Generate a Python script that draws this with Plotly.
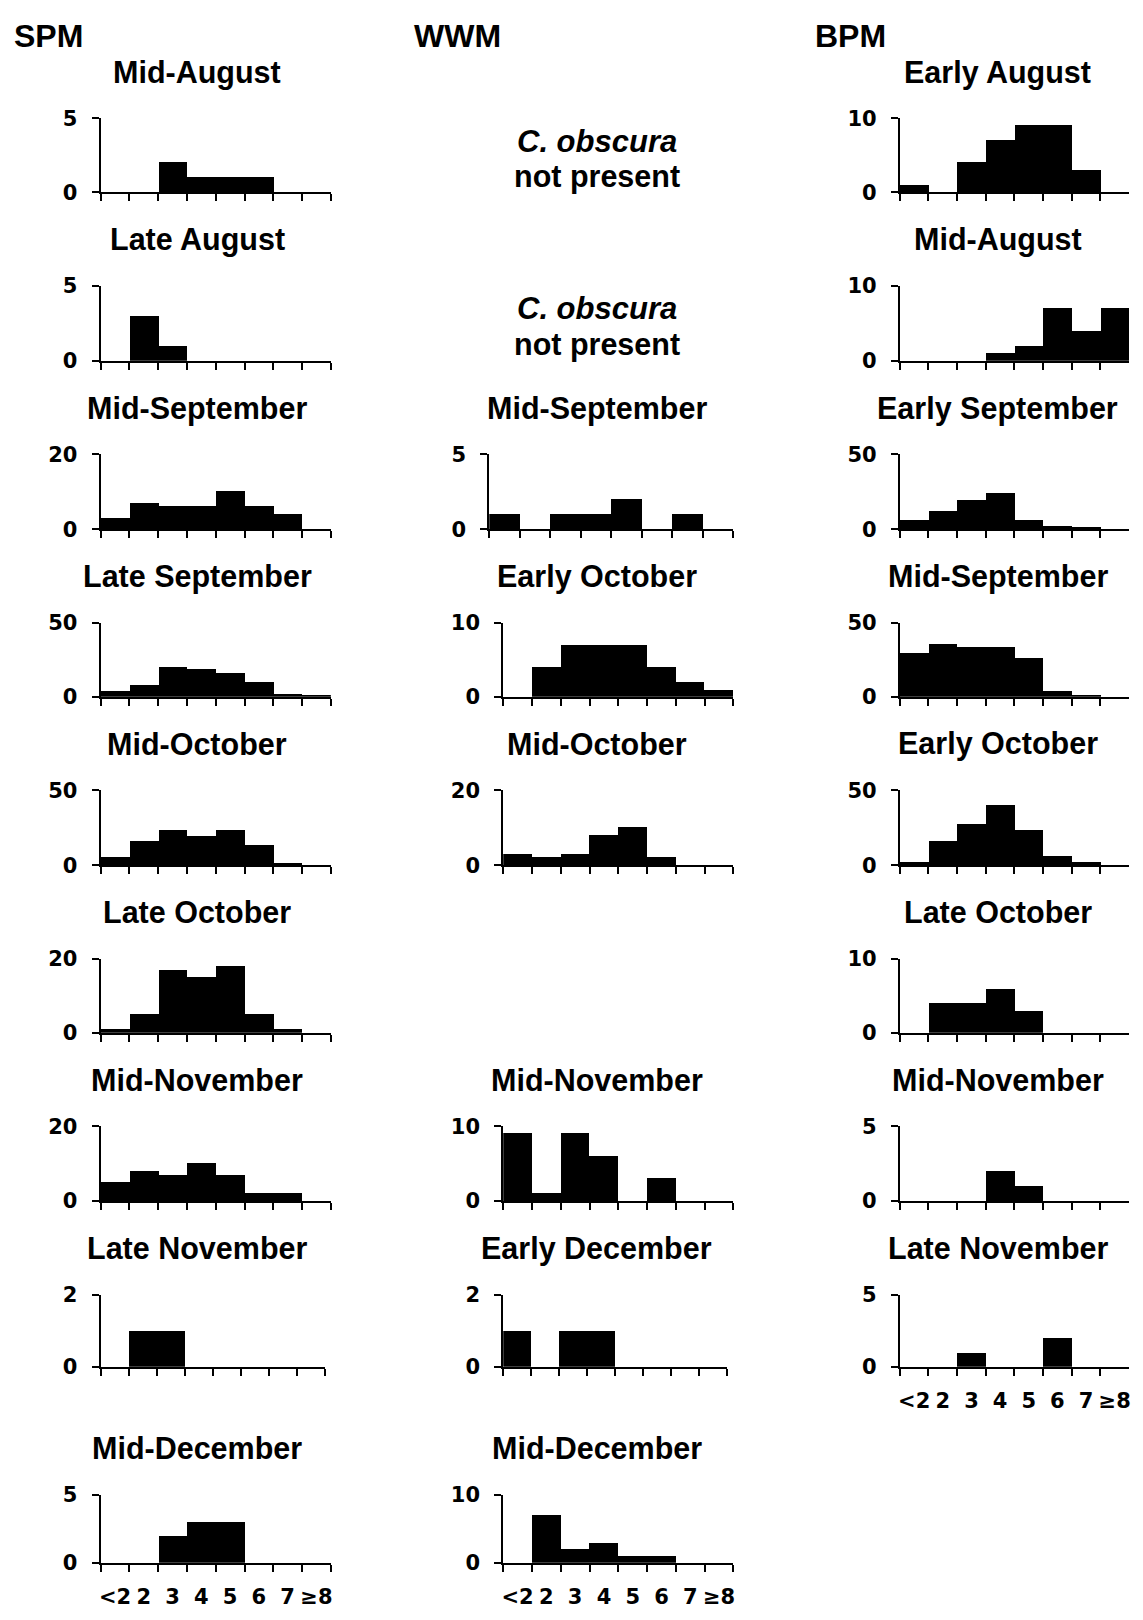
import plotly.graph_objects as go

W, H = 1143, 1620

# ---------------- data ----------------
size_bins = ["<2", "2", "3", "4", "5", "6", "7", "≥8"]

# SPM
spm_titles = ["Mid-August", "Late August", "Mid-September", "Late September",
              "Mid-October", "Late October", "Mid-November", "Late November",
              "Mid-December"]
spm_ymax = [5, 5, 20, 50, 50, 20, 20, 2, 5]
spm_mid_aug = [0, 0, 2, 1, 1, 1, 0, 0]
spm_late_aug = [0, 3, 1, 0, 0, 0, 0, 0]
spm_mid_sep = [3, 7, 6, 6, 10, 6, 4, 0]
spm_late_sep = [4, 8, 20, 19, 16, 10, 2, 1]
spm_mid_oct = [5, 16, 23, 19, 23, 13, 1, 0]
spm_late_oct = [1, 5, 17, 15, 18, 5, 1, 0]
spm_mid_nov = [5, 8, 7, 10, 7, 2, 2, 0]
spm_late_nov = [0, 1, 1, 0, 0, 0, 0, 0]
spm_mid_dec = [0, 0, 2, 3, 3, 0, 0, 0]

# WWM
wwm_titles = ["Mid-September", "Early October", "Mid-October",
              "Mid-November", "Early December", "Mid-December"]
wwm_rows = [2, 3, 4, 6, 7, 8]
wwm_ymax = [5, 10, 20, 10, 2, 10]
wwm_mid_sep = [1, 0, 1, 1, 2, 0, 1, 0]
wwm_early_oct = [0, 4, 7, 7, 7, 4, 2, 1]
wwm_mid_oct = [3, 2, 3, 8, 10, 2, 0, 0]
wwm_mid_nov = [9, 1, 9, 6, 0, 3, 0, 0]
wwm_early_dec = [1, 0, 1, 1, 0, 0, 0, 0]
wwm_mid_dec = [0, 7, 2, 3, 1, 1, 0, 0]
wwm_absent_rows = [0, 1]

# BPM
bpm_titles = ["Early August", "Mid-August", "Early September", "Mid-September",
              "Early October", "Late October", "Mid-November", "Late November"]
bpm_ymax = [10, 10, 50, 50, 50, 10, 5, 5]
bpm_early_aug = [1, 0, 4, 7, 9, 9, 3, 0]
bpm_mid_aug = [0, 0, 0, 1, 2, 7, 4, 7]
bpm_early_sep = [6, 12, 19, 24, 6, 2, 1, 0]
bpm_mid_sep = [30, 36, 34, 34, 26, 4, 1, 0]
bpm_early_oct = [2, 16, 27, 40, 23, 6, 2, 0]
bpm_late_oct = [0, 4, 4, 6, 3, 0, 0, 0]
bpm_mid_nov = [0, 0, 0, 2, 1, 0, 0, 0]
bpm_late_nov = [0, 0, 1, 0, 0, 2, 0, 0]

col_headers = ["SPM", "WWM", "BPM"]

# ---------------- layout geometry (pixels) ----------------
row_top = [108, 278, 449, 620, 790, 961, 1131, 1302, 1505]
row_zero = [183, 354, 525, 695, 866, 1036, 1207, 1375, 1574]
col_left = [99, 503, 901]
col_right = [330, 734, 1131]
col_title_x = [196, 597, 999]
header_x = [10, 411, 814]

spm_vals = [spm_mid_aug, spm_late_aug, spm_mid_sep, spm_late_sep, spm_mid_oct,
            spm_late_oct, spm_mid_nov, spm_late_nov, spm_mid_dec]
wwm_vals = [wwm_mid_sep, wwm_early_oct, wwm_mid_oct, wwm_mid_nov,
            wwm_early_dec, wwm_mid_dec]
bpm_vals = [bpm_early_aug, bpm_mid_aug, bpm_early_sep, bpm_mid_sep,
            bpm_early_oct, bpm_late_oct, bpm_mid_nov, bpm_late_nov]

panels = []
for r in range(len(spm_titles)):
    panels.append((0, r, spm_titles[r], spm_vals[r], spm_ymax[r], r == len(spm_titles) - 1))
for k in range(len(wwm_titles)):
    panels.append((1, wwm_rows[k], wwm_titles[k], wwm_vals[k], wwm_ymax[k], k == len(wwm_titles) - 1))
for r in range(len(bpm_titles)):
    panels.append((2, r, bpm_titles[r], bpm_vals[r], bpm_ymax[r], r == len(bpm_titles) - 1))

YTICK_FONT = dict(family="DejaVu Sans", size=21, color="black", weight="bold")
XTICK_FONT = dict(family="DejaVu Sans", size=21, color="black", weight="bold")
TITLE_FONT = dict(family="Liberation Sans", size=30.5, color="black", weight="bold")
HEADER_FONT = dict(family="Liberation Sans", size=32, color="black", weight="bold")

fig = go.Figure()
annotations = []
axes = {}
for i, (col, row, title, vals, ymax, bottom) in enumerate(panels, start=1):
    sx = "" if i == 1 else str(i)
    left = col_left[col]
    right = col_right[col]
    if col == 1 and row == 2:
        left = 489
    if (col == 0 and row == 7):
        right = 324
    if (col == 1 and row == 7):
        right = 728
    fig.add_trace(go.Bar(
        x=size_bins, y=vals, xaxis="x" + sx, yaxis="y" + sx,
        marker=dict(color="black", line=dict(width=0)),
        width=1.0, showlegend=False, hoverinfo="skip"))
    axes["xaxis" + sx] = dict(
        domain=[left / W, right / W], anchor="y" + sx,
        type="category", categoryorder="array", categoryarray=size_bins,
        range=[-0.5, 7.5], showline=True, linecolor="black", linewidth=2,
        ticks="outside", tickson="boundaries", ticklen=7, tickwidth=2,
        tickcolor="black", showgrid=False, zeroline=False, tickangle=0,
        ticklabelstandoff=14,
        showticklabels=bottom, tickfont=XTICK_FONT, fixedrange=True)
    axes["yaxis" + sx] = dict(
        domain=[1 - row_zero[row] / H, 1 - row_top[row] / H], anchor="x" + sx,
        range=[0, ymax], tickvals=[0, ymax], ticktext=[str(0), str(ymax)],
        showline=True, linecolor="black", linewidth=2, ticks="outside",
        ticklen=7, tickwidth=2, tickcolor="black", showgrid=False,
        zeroline=False, tickfont=YTICK_FONT, ticklabelstandoff=10, fixedrange=True)
    annotations.append(dict(
        text=title, xref="paper", yref="paper", x=col_title_x[col] / W,
        y=1 - (row_top[row] - 47) / H, xanchor="center", yanchor="middle",
        showarrow=False, font=TITLE_FONT))

for c, h in enumerate(col_headers):
    annotations.append(dict(
        text=h, xref="paper", yref="paper", x=header_x[c] / W, y=1 - 24 / H,
        xanchor="left", yanchor="middle", showarrow=False, font=HEADER_FONT))

for r in wwm_absent_rows:
    annotations.append(dict(
        text="<i>C. obscura</i>", xref="paper", yref="paper",
        x=col_title_x[1] / W, y=1 - (row_top[r] + 23) / H,
        xanchor="center", yanchor="middle", showarrow=False,
        font=dict(family="Liberation Sans", size=31, color="black", weight="bold")))
    annotations.append(dict(
        text="not present", xref="paper", yref="paper",
        x=col_title_x[1] / W, y=1 - (row_top[r] + 59) / H,
        xanchor="center", yanchor="middle", showarrow=False,
        font=dict(family="Liberation Sans", size=30.5, color="black", weight="bold")))

fig.update_layout(
    width=W, height=H, margin=dict(l=0, r=0, t=0, b=0),
    paper_bgcolor="white", plot_bgcolor="white", bargap=0,
    annotations=annotations, **axes)

fig.write_html(
    "out.html",
    post_script="document.body.style.margin='0px';"
                "document.documentElement.style.overflow='hidden';")
